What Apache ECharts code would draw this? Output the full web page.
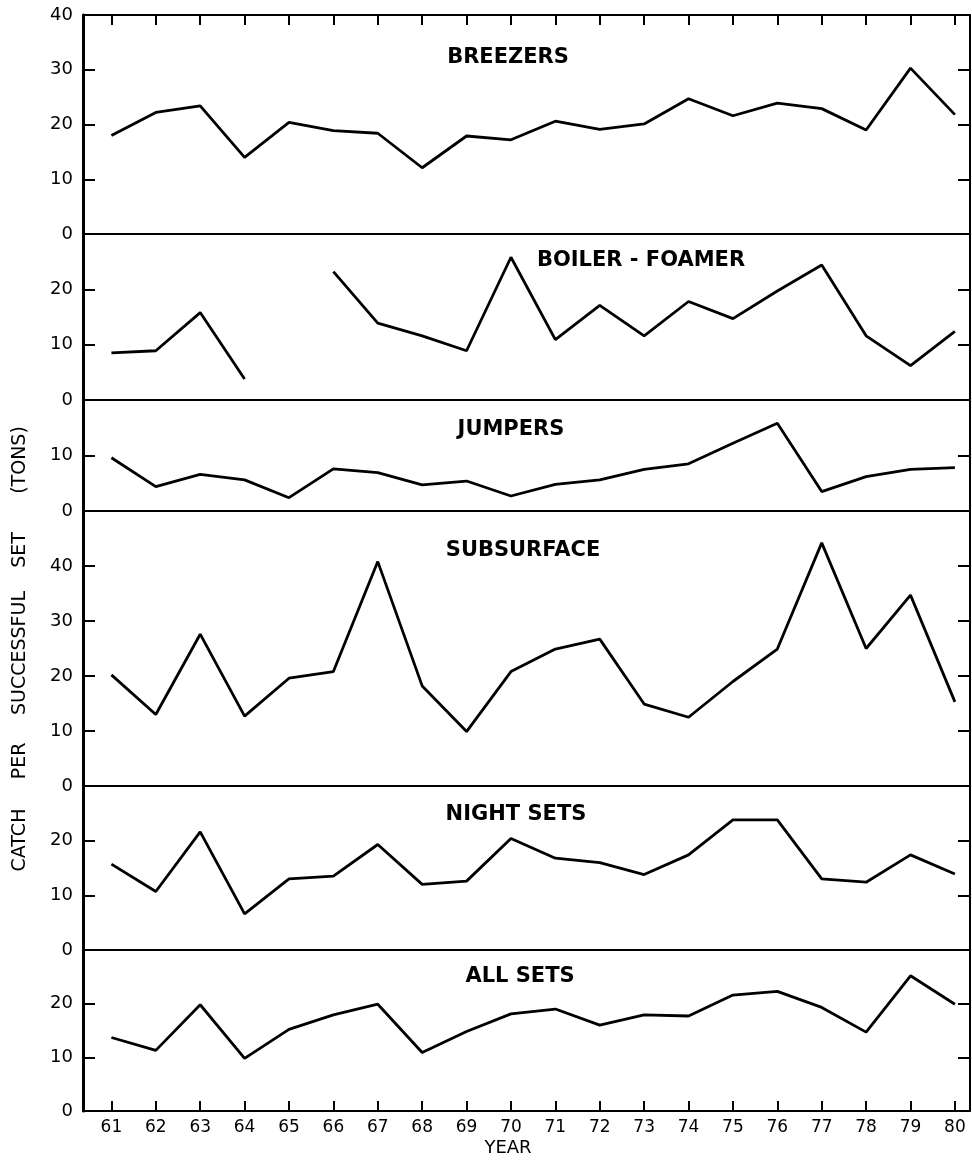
<!DOCTYPE html>
<html><head><meta charset="utf-8">
<script src="https://cdn.jsdelivr.net/npm/echarts@6/dist/echarts.min.js"></script>
<style>html,body{margin:0;padding:0;background:#fff}#c{width:972px;height:1160px}</style>
</head><body><div id="c"></div>
<script>
// ---- data ----
const years = [61,62,63,64,65,66,67,68,69,70,71,72,73,74,75,76,77,78,79,80];
const breezers     = [18.0,22.2,23.4,14.0,20.4,18.9,18.4,12.1,17.9,17.2,20.6,19.1,20.1,24.7,21.6,23.9,22.9,19.0,30.3,21.8];
const boilerFoamer = [8.5,8.9,15.8,3.8,null,23.2,13.9,11.6,8.9,25.8,10.9,17.1,11.6,17.8,14.7,19.7,24.4,11.6,6.2,12.4];
const jumpers      = [9.6,4.4,6.6,5.6,2.4,7.6,6.9,4.7,5.4,2.7,4.8,5.6,7.5,8.5,12.2,15.8,3.5,6.2,7.5,7.8];
const subsurface   = [20.2,13.0,27.6,12.7,19.6,20.8,40.8,18.2,9.9,20.8,24.9,26.7,14.9,12.5,19.0,24.9,44.2,25.0,34.7,15.3];
const nightSets    = [15.7,10.7,21.6,6.6,13.0,13.5,19.3,12.0,12.6,20.4,16.8,16.0,13.8,17.4,23.8,23.8,13.0,12.4,17.4,13.9];
const allSets      = [13.7,11.3,19.8,9.8,15.2,17.9,19.9,10.9,14.8,18.1,19.0,16.0,17.9,17.7,21.6,22.3,19.3,14.7,25.2,19.9];
const panelTitles  = ['BREEZERS','BOILER - FOAMER','JUMPERS','SUBSURFACE','NIGHT SETS','ALL SETS'];
const panelMax     = [40,30,20,50,30,30];
const yTitleWords  = ['CATCH','PER','SUCCESSFUL','SET','(TONS)'];
const xTitle = 'YEAR';

// ---- layout ----
const FONT = '"DejaVu Sans", sans-serif';
const seriesData = [breezers, boilerFoamer, jumpers, subsurface, nightSets, allSets];
const panelTop = [15,234,400,511,786,950];
const panelH   = [219,166,111,275,164,161];
const titlePos = [[508,58],[641,261],[511,430],[523,551],[516,815],[520,977]];
const yWordPos = [840,761,653,550,460];
const X_MIN = 60.36, X_MAX = 80.34;
const N = 6;

const grid = [], xAxis = [], yAxis = [], series = [], graphic = [];
for (let i = 0; i < N; i++) {
  grid.push({left:83, right:2, top:panelTop[i], height:panelH[i], containLabel:false});
  const last = i === N-1;
  xAxis.push({
    gridIndex:i, type:'value', min:X_MIN, max:X_MAX, position:'bottom',
    axisLine:{show:true, onZero:false, lineStyle:{color:'#000', width:2}},
    axisTick:{show:last, inside:true, length:10, customValues:years, lineStyle:{color:'#000', width:2}},
    axisLabel:{show:last, customValues:years, margin:8, fontSize:17, color:'#000', fontFamily:FONT},
    splitLine:{show:false}
  });
}
// top border with ticks
xAxis.push({
  gridIndex:0, type:'value', min:X_MIN, max:X_MAX, position:'top',
  axisLine:{show:true, onZero:false, lineStyle:{color:'#000', width:2}},
  axisTick:{show:true, inside:true, length:10, customValues:years, lineStyle:{color:'#000', width:2}},
  axisLabel:{show:false}, splitLine:{show:false}
});
for (let i = 0; i < N; i++) {
  yAxis.push({
    gridIndex:i, type:'value', min:0, max:panelMax[i], interval:10, position:'left',
    axisLine:{show:true, onZero:false, lineStyle:{color:'#000', width:3}},
    axisTick:{show:true, inside:true, length:12, lineStyle:{color:'#000', width:2}},
    axisLabel:{show:true, showMaxLabel:i===0, showMinLabel:true, margin:10, fontSize:18, color:'#000', fontFamily:FONT},
    splitLine:{show:false}
  });
}
for (let i = 0; i < N; i++) {
  yAxis.push({
    gridIndex:i, type:'value', min:0, max:panelMax[i], interval:10, position:'right',
    axisLine:{show:true, onZero:false, lineStyle:{color:'#000', width:2}},
    axisTick:{show:true, inside:true, length:12, lineStyle:{color:'#000', width:2}},
    axisLabel:{show:false}, splitLine:{show:false}
  });
}
for (let i = 0; i < N; i++) {
  series.push({
    type:'line', name:panelTitles[i], xAxisIndex:i, yAxisIndex:i,
    data: years.map((y,j)=>[y, seriesData[i][j]]),
    symbol:'none', connectNulls:false, silent:true,
    lineStyle:{color:'#000', width:2.8}
  });
  graphic.push({type:'text', x:titlePos[i][0], y:titlePos[i][1], silent:true,
    style:{text:panelTitles[i], font:'bold 21px '+FONT, fill:'#000', textAlign:'center', textVerticalAlign:'middle'}});
}
yTitleWords.forEach((w,k)=>{
  graphic.push({type:'text', x:20, y:yWordPos[k], rotation:Math.PI/2, silent:true,
    style:{text:w, x:0, y:0, font:'19px '+FONT, fill:'#000', textAlign:'center', textVerticalAlign:'middle'}});
});
graphic.push({type:'text', x:508, y:1148, silent:true,
  style:{text:xTitle, font:'18px '+FONT, fill:'#000', textAlign:'center', textVerticalAlign:'middle'}});

const chart = echarts.init(document.getElementById('c'), null, {renderer:'canvas'});
chart.setOption({
  backgroundColor:'#fff', animation:false,
  textStyle:{fontFamily:FONT},
  grid, xAxis, yAxis, series, graphic
});
</script></body></html>
